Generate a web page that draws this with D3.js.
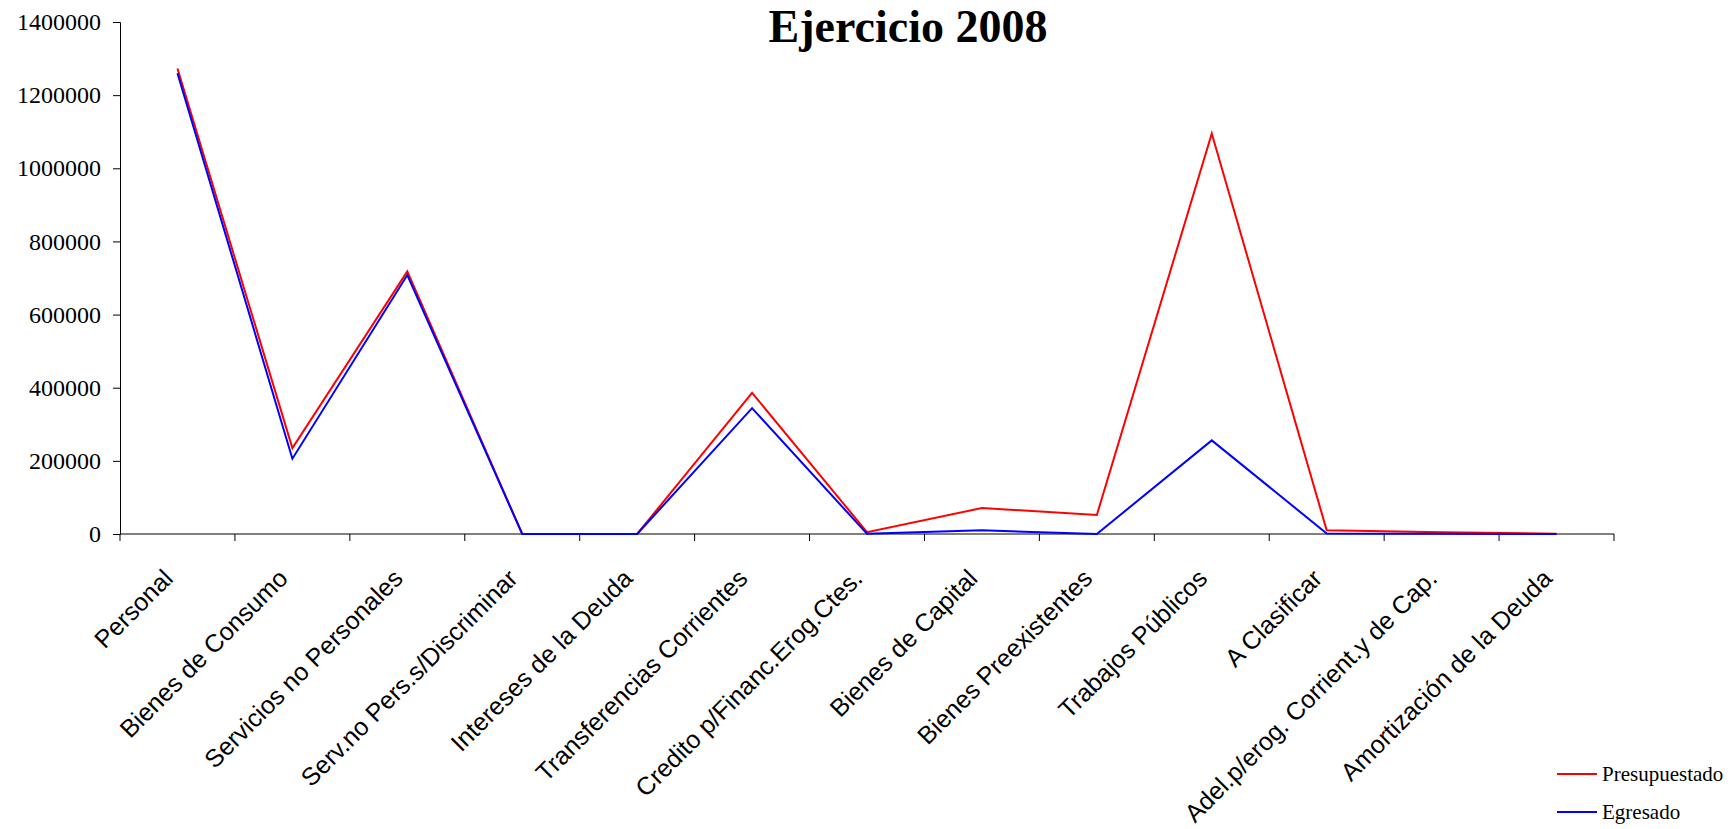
<!DOCTYPE html>
<html>
<head>
<meta charset="utf-8">
<script src="https://cdn.jsdelivr.net/npm/d3@7"></script>
<style>
body{margin:0;background:#fff;}
.title{font-family:"Liberation Serif","Times New Roman",serif;font-weight:bold;}
.legend text{font-family:"Liberation Serif","Times New Roman",serif;}
.ylab{font-family:"Liberation Serif","Times New Roman",serif !important;}
.xlabel{font-family:"Liberation Sans",Arial,sans-serif;}
</style>
</head>
<body>
<svg id="chart"></svg>
<script>
// data
var categories = ["Personal","Bienes de Consumo","Servicios no Personales","Serv.no Pers.s/Discriminar",
    "Intereses de la Deuda","Transferencias Corrientes","Credito p/Financ.Erog.Ctes.","Bienes de Capital",
    "Bienes Preexistentes","Trabajos Públicos","A Clasificar","Adel.p/erog. Corrient.y de Cap.",
    "Amortización de la Deuda"]
var presupuestado = [1273000,235000,718000,0,0,386000,5000,71000,52000,1095000,10000,5000,1000]
var egresado = [1260000,206000,708000,0,0,344000,500,10000,0,256000,1500,500,200]
var yTicks = [0,200000,400000,600000,800000,1000000,1200000,1400000]
var seriesNames = ["Presupuestado","Egresado"]
var seriesColors = ["#ff0000","#0000ff"]

var screen = {width:1733,height:829}
var svg = d3.select("#chart")
    .attr("width",screen.width)
    .attr("height",screen.height)

var xScale = d3.scaleBand()
    .domain(categories)
    .range([120,1614])
    .padding(0)
var yScale = d3.scaleLinear()
    .domain([0,1400000])
    .range([534,22])

//y axis
var yAxis = svg.append("g")
    .attr("transform","translate(120,0)")
    .call(d3.axisLeft(yScale).tickValues(yTicks).tickSize(7).tickPadding(12).tickFormat(d3.format("d")))
yAxis.attr("font-family",null).attr("font-size",null)
yAxis.selectAll("text")
    .attr("class","ylab")
    .attr("font-family","Liberation Serif")
    .attr("font-size","24px")
    .attr("fill","#000")
yAxis.selectAll("line,path").attr("stroke","#000")

//x axis, ticks on band edges
var xAxis = svg.append("g")
    .attr("transform","translate(0,534)")
xAxis.append("line")
    .attr("x1",120).attr("x2",1614)
    .attr("stroke","#000")
var edges = categories.map(function(c){return xScale(c)})
edges.push(xScale.range()[1])
xAxis.selectAll(".edge")
    .data(edges)
    .enter()
    .append("line")
    .attr("x1",function(d){return d})
    .attr("x2",function(d){return d})
    .attr("y1",0)
    .attr("y2",7)
    .attr("stroke","#000")

var cx = function(c){return xScale(c)+xScale.bandwidth()/2}

svg.append("g")
    .selectAll("text")
    .data(categories)
    .enter()
    .append("text")
    .attr("class","xlabel")
    .attr("font-size","25px")
    .attr("text-anchor","end")
    .attr("transform",function(c){return "translate("+(cx(c)-3)+",580) rotate(-45)"})
    .text(function(c){return c})

//lines
var line = d3.line()
    .x(function(d,i){return cx(categories[i])})
    .y(function(d){return yScale(d)})

var allSeries = [presupuestado,egresado]
svg.append("g")
    .selectAll("path")
    .data(allSeries)
    .enter()
    .append("path")
    .attr("d",line)
    .attr("fill","none")
    .attr("stroke",function(d,i){return seriesColors[i]})
    .attr("stroke-width",2)

//title
svg.append("text")
    .attr("class","title")
    .attr("x",908)
    .attr("y",42)
    .attr("text-anchor","middle")
    .attr("font-size","46px")
    .text("Ejercicio 2008")

//legend
var legend = svg.append("g")
    .attr("class","legend")
    .attr("transform","translate(1557,774)")
var entries = legend.selectAll("g")
    .data(seriesNames)
    .enter()
    .append("g")
    .attr("transform",function(d,i){return "translate(0,"+i*38+")"})
entries.append("line")
    .attr("x1",0).attr("x2",40)
    .attr("stroke",function(d,i){return seriesColors[i]})
    .attr("stroke-width",2)
entries.append("text")
    .attr("x",45)
    .attr("y",7)
    .attr("font-size","21px")
    .text(function(d){return d})
</script>
</body>
</html>
